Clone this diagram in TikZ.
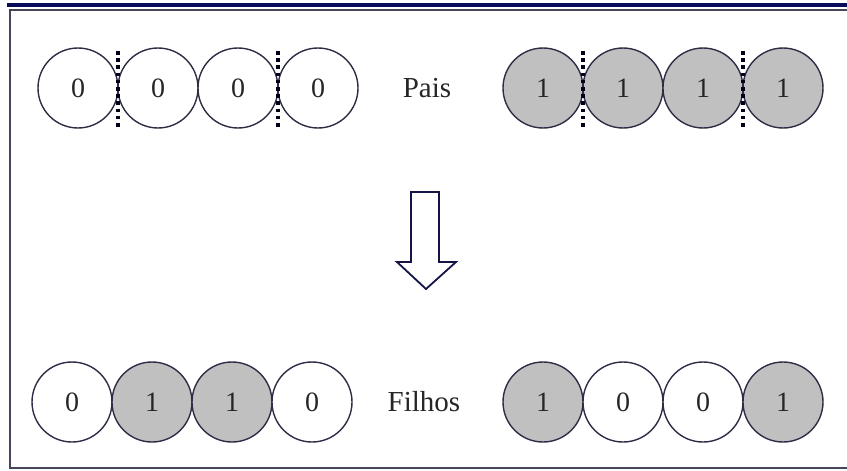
\documentclass[tikz,border=0pt]{standalone}
\usepackage{fontspec}
\setmainfont{Liberation Serif}
\definecolor{navybar}{RGB}{10,10,90}
\definecolor{framegray}{RGB}{70,70,90}
\definecolor{ringcol}{RGB}{45,45,70}
\definecolor{genefill}{RGB}{192,192,192}
\definecolor{arrowcol}{RGB}{20,20,70}
\tikzset{
  gene/.style={circle, draw=ringcol, line width=1.4pt, minimum size=80pt,
    inner sep=0pt, font=\fontsize{28}{32}\selectfont, text=black!85},
  zero/.style={gene, fill=white},
  one/.style={gene, fill=genefill},
  cutline/.style={line width=3.6pt, dash pattern=on 3.6pt off 3.6pt, draw=black!90!blue},
  label/.style={font=\fontsize{29}{34}\selectfont, text=black!85, inner sep=0pt},
}
\begin{document}
\begin{tikzpicture}[x=1pt, y=-1pt]
  \useasboundingbox (0,0) rectangle (847,471);
  \fill[white] (0,0) rectangle (847,471);

  % window frame
  \fill[navybar] (7,2.5) rectangle (847,6.5);
  \draw[framegray, line width=2pt] (847,10) -- (10,10) -- (10,468) -- (847,468);

  % parents
  \node[zero] (p1a) at (78,88) {0};
  \node[zero] (p1b) at (158,88) {0};
  \node[zero] (p1c) at (238,88) {0};
  \node[zero] (p1d) at (318,88) {0};
  \node[label] (pais) at (427,88) {Pais};
  \node[one] (p2a) at (543,88) {1};
  \node[one] (p2b) at (623,88) {1};
  \node[one] (p2c) at (703,88) {1};
  \node[one] (p2d) at (783,88) {1};

  % crossover points
  \coordinate (c1t) at (118,51); \coordinate (c1b) at (118,127);
  \coordinate (c2t) at (278,51); \coordinate (c2b) at (278,127);
  \coordinate (c3t) at (583,51); \coordinate (c3b) at (583,127);
  \coordinate (c4t) at (743,51); \coordinate (c4b) at (743,127);
  \draw[cutline] (c1t) -- (c1b);
  \draw[cutline] (c2t) -- (c2b);
  \draw[cutline] (c3t) -- (c3b);
  \draw[cutline] (c4t) -- (c4b);

  % hollow block arrow
  \draw[arrowcol, line width=1.8pt, line join=miter, fill=white]
    (411,192) -- (439,192) -- (439,262) -- (456,262) -- (426,289)
    -- (397,262) -- (411,262) -- cycle;

  % offspring
  \node[zero] (f1a) at (72,402) {0};
  \node[one]  (f1b) at (152,402) {1};
  \node[one]  (f1c) at (232,402) {1};
  \node[zero] (f1d) at (312,402) {0};
  \node[label] (filhos) at (424,402) {Filhos};
  \node[one]  (f2a) at (543,402) {1};
  \node[zero] (f2b) at (623,402) {0};
  \node[zero] (f2c) at (703,402) {0};
  \node[one]  (f2d) at (783,402) {1};
\end{tikzpicture}
\end{document}
